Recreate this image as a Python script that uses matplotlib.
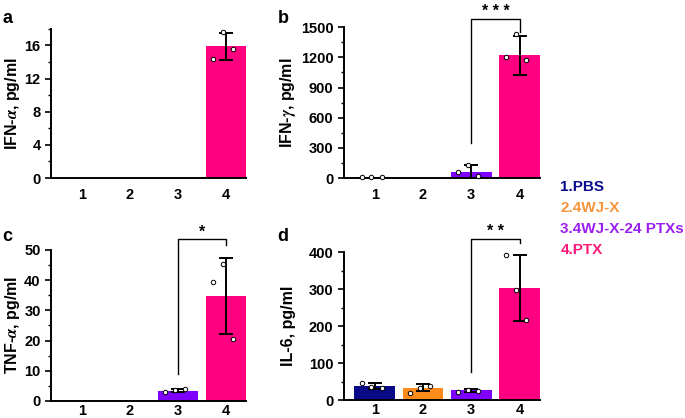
import numpy as np
import matplotlib
matplotlib.use('Agg')
import matplotlib.pyplot as plt
from matplotlib.ticker import MultipleLocator

plt.rcParams['font.family'] = ['Liberation Sans', 'DejaVu Sans']
plt.rcParams['font.weight'] = 'bold'
plt.rcParams['mathtext.fontset'] = 'stix'

groups = [1, 2, 3, 4]
group_names = ['1.PBS', '2.4WJ-X', '3.4WJ-X-24 PTXs', '4.PTX']
bar_colors = ['#0a0a88', '#ff8c1a', '#8000ff', '#ff0080']
legend_colors = ['#0b0b8f', '#f7943c', '#9b1ff0', '#ff1a7a']

# panel a: IFN-alpha
ifna_mean = [0, 0, 0, 15.9]
ifna_sd = [0, 0, 0, 1.6]
ifna_pts = [[], [], [], [14.4, 17.6, 15.6]]

# panel b: IFN-gamma
ifng_mean = [6, 0, 65, 1220]
ifng_sd = [0, 0, 60, 195]
ifng_pts = [[6, 6, 6], [], [60, 132, 20], [1200, 1430, 1172]]

# panel c: TNF-alpha
tnfa_mean = [0, 0, 3.3, 34.7]
tnfa_sd = [0, 0, 0.5, 12.7]
tnfa_pts = [[], [], [3.0, 3.6, 3.8], [39.5, 45.2, 20.6]]

# panel d: IL-6
il6_mean = [39, 33, 27, 303]
il6_sd = [8, 9, 4, 89]
il6_pts = [[45, 36, 32], [20, 33, 39], [23, 27, 25], [393, 297, 215]]

offsets = [-0.27, -0.07, 0.14]

fig = plt.figure(figsize=(6.85, 4.18), dpi=100)

panels = [
    dict(rect=[0.0745, 0.574, 0.285, 0.357], mean=ifna_mean, sd=ifna_sd, pts=ifna_pts,
         ylim=18, major=4, minor=2, label='IFN-$\\alpha$, pg/ml', letter='a',
         lab_x=0.018, let_xy=(0.004, 0.975), pad=7, bracket=None),
    dict(rect=[0.502, 0.574, 0.286, 0.361], mean=ifng_mean, sd=ifng_sd, pts=ifng_pts,
         ylim=1500, major=300, minor=150, label='IFN-$\\gamma$, pg/ml', letter='b',
         lab_x=0.421, let_xy=(0.405, 0.975), pad=7, bracket=(350, 1585, 1450, '* * *')),
    dict(rect=[0.0745, 0.041, 0.285, 0.361], mean=tnfa_mean, sd=tnfa_sd, pts=tnfa_pts,
         ylim=50, major=10, minor=5, label='TNF-$\\alpha$, pg/ml', letter='c',
         lab_x=0.018, let_xy=(0.004, 0.455), pad=2.5, bracket=(9, 53.5, 51.5, '*')),
    dict(rect=[0.502, 0.043, 0.286, 0.354], mean=il6_mean, sd=il6_sd, pts=il6_pts,
         ylim=400, major=100, minor=50, label='IL-6, pg/ml', letter='d',
         lab_x=0.421, let_xy=(0.405, 0.455), pad=2.5, bracket=(75, 435, 425, '* *')),
]

for p in panels:
    ax = fig.add_axes(p['rect'])
    ax.bar(groups, p['mean'], width=0.84, color=bar_colors, zorder=1)
    for g, m, s in zip(groups, p['mean'], p['sd']):
        if s > 0:
            ax.errorbar(g, m, yerr=s, color='black', lw=1.4, capsize=5,
                        capthick=1.4, zorder=3)
    for g, vals in zip(groups, p['pts']):
        for off, v in zip(offsets, vals):
            ax.plot(g + off, v, 'o', ms=3.2, mfc='white', mec='black', mew=0.7,
                    zorder=4, clip_on=False)
    ax.set_xlim(0.36, 4.42)
    ax.set_ylim(0, p['ylim'])
    ax.set_xticks(groups)
    ax.tick_params(axis='x', length=0, labelsize=10.5, pad=p['pad'])
    ax.tick_params(axis='y', which='major', length=4, width=1.2, labelsize=10.5)
    ax.tick_params(axis='y', which='minor', length=2.5, width=1.0)
    ax.yaxis.set_major_locator(MultipleLocator(p['major']))
    ax.yaxis.set_minor_locator(MultipleLocator(p['minor']))
    for lab in ax.get_xticklabels() + ax.get_yticklabels():
        lab.set_fontweight('bold')
    for side in ['top', 'right']:
        ax.spines[side].set_visible(False)
    for side in ['left', 'bottom']:
        ax.spines[side].set_linewidth(1.4)
    r = p['rect']
    fig.text(p['lab_x'], r[1] + r[3] / 2, p['label'], rotation=90, fontsize=11.5,
             fontweight='bold', ha='center', va='center')
    fig.text(p['let_xy'][0], p['let_xy'][1], p['letter'], fontsize=13,
             fontweight='bold', va='top', ha='left')
    if p['bracket'] is not None:
        y0, ytop, y1, stars = p['bracket']
        ax.plot([3, 3, 4, 4], [y0, ytop, ytop, y1], color='black', lw=1.0,
                clip_on=False, zorder=5)
        ax.text(3.5, ytop, stars, ha='center', va='bottom', fontsize=11.5,
                fontweight='bold')

for i, (name, c) in enumerate(zip(group_names, legend_colors)):
    fig.text(0.818, 1 - (187 + i * 21) / 418, name, color=c, fontsize=11,
             fontweight='bold', va='center', ha='left')

fig.savefig('out.png', dpi=100)
